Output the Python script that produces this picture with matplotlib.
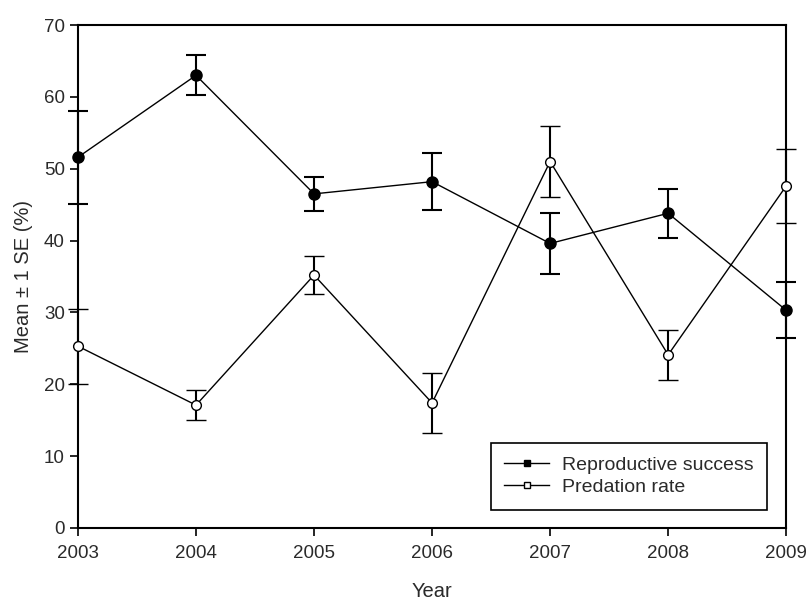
import matplotlib
matplotlib.use('Agg')
import matplotlib.pyplot as plt
from matplotlib.lines import Line2D

plt.rcParams['font.family'] = ['Liberation Sans', 'DejaVu Sans']

# values
years = [2003, 2004, 2005, 2006, 2007, 2008, 2009]
repro = [51.6, 63.0, 46.5, 48.2, 39.6, 43.8, 30.3]
repro_se = [6.5, 2.8, 2.4, 4.0, 4.2, 3.4, 3.9]
pred = [25.3, 17.1, 35.2, 17.4, 51.0, 24.1, 47.6]
pred_se = [5.2, 2.1, 2.6, 4.2, 4.9, 3.5, 5.2]

TXT = '#2a2a2a'

fig = plt.figure(figsize=(8.08, 6.03), dpi=100)
ax = fig.add_axes([0.0965, 0.1244, 0.8765, 0.8341])

ax.errorbar(years, repro, yerr=repro_se, color='black', lw=1.0,
            marker='o', ms=8, mfc='black', mec='black',
            ecolor='black', elinewidth=1.5, capsize=7, capthick=1.5,
            clip_on=False, zorder=3)
ax.errorbar(years, pred, yerr=pred_se, color='black', lw=1.0,
            marker='o', ms=7, mfc='white', mec='black', mew=1.0,
            ecolor='black', elinewidth=1.5, capsize=7, capthick=1.5,
            clip_on=False, zorder=3)

ax.set_xlim(2003, 2009)
ax.set_ylim(0, 70)
ax.set_xticks(years)
ax.set_yticks(range(0, 71, 10))
ax.tick_params(direction='out', length=6, width=1.2, colors='black',
               labelcolor=TXT, labelsize=13.5, top=False, right=False)
ax.tick_params(axis='x', pad=6)
for s in ax.spines.values():
    s.set_linewidth(1.5)

ax.set_xlabel('Year', fontsize=14.5, color=TXT, labelpad=15)
ax.set_ylabel('Mean \u00b1 1 SE (%)', fontsize=14.5, color=TXT, labelpad=8)

handles = [
    Line2D([], [], color='black', lw=1.0, marker='s', ms=5, mfc='black', mec='black'),
    Line2D([], [], color='black', lw=1.0, marker='s', ms=5, mfc='white', mec='black'),
]
leg = ax.legend(handles, ['Reproductive success', 'Predation rate'],
                loc='lower right', bbox_to_anchor=(0.973, 0.036),
                borderaxespad=0, fontsize=14, frameon=True, fancybox=False,
                framealpha=1, edgecolor='black', handlelength=2.3,
                handletextpad=0.65, borderpad=0.7, labelspacing=0.25,
                labelcolor=TXT)
leg.get_frame().set_linewidth(1.2)

fig.savefig('out.png', dpi=100)
